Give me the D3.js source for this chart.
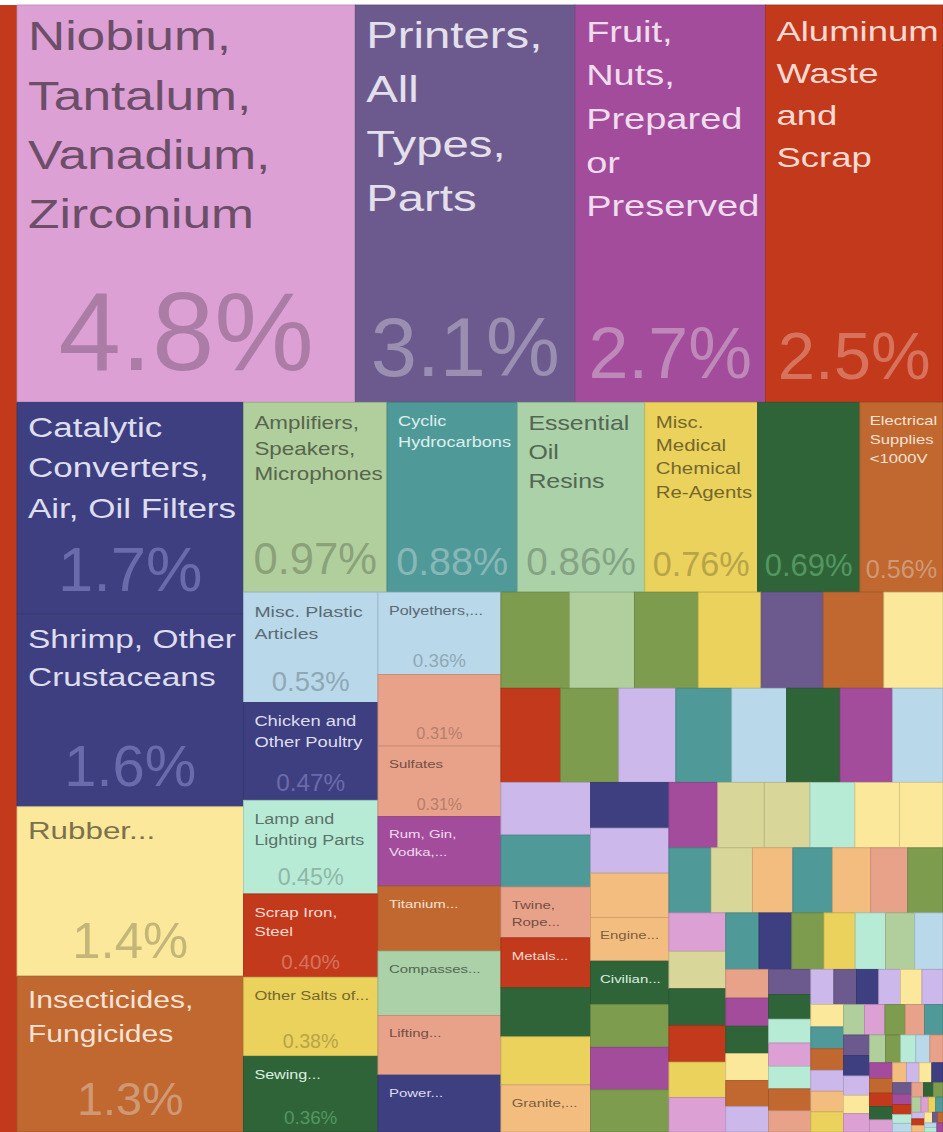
<!DOCTYPE html>
<html>
<head>
<meta charset="utf-8">
<title>Export treemap</title>
<script src="https://cdnjs.cloudflare.com/ajax/libs/d3/7.8.5/d3.min.js"></script>
<style>
html,body{margin:0;padding:0;background:#ffffff;}
svg{display:block;}
</style>
</head>
<body>
<svg id="chart" width="943" height="1132"></svg>
<script>
// ---------------- DATA ----------------
// product communities (colour groups) and their colours
const communities = ["c01","c02","c03","c04","c05","c06","c07","c08","c09","c10",
                     "c11","c12","c13","c14","c15","c16","c17","c18","c19"];
const communityColors = ["#dca0d5","#6c5a8e","#a34c9c","#c2391b","#3e3f81","#b1cf9d","#4f9a98",
                         "#ebd25c","#2f6439","#c0682f","#fbe89b","#b9d8ea","#e9a28a","#b8ebd6",
                         "#7e9c4e","#ccb8ea","#f4bd80","#d9d69a","#aad1a8"];

// products that carry a label (share of exports, %)
const labeledNames = [
  "Niobium, Tantalum, Vanadium, Zirconium", "Printers, All Types, Parts",
  "Fruit, Nuts, Prepared or Preserved", "Aluminum Waste and Scrap",
  "Catalytic Converters, Air, Oil Filters", "Shrimp, Other Crustaceans",
  "Rubber...", "Insecticides, Fungicides",
  "Amplifiers, Speakers, Microphones", "Cyclic Hydrocarbons", "Essential Oil Resins",
  "Misc. Medical Chemical Re-Agents", "Electrical Supplies <1000V",
  "Misc. Plastic Articles", "Chicken and Other Poultry", "Lamp and Lighting Parts",
  "Scrap Iron, Steel", "Other Salts of...", "Sewing...",
  "Polyethers,...", "Sulfates", "Rum, Gin, Vodka,...", "Titanium...", "Compasses...",
  "Lifting...", "Power...", "Twine, Rope...", "Metals...", "Granite,...",
  "Engine...", "Civilian..."
];
const labeledShares = [
  4.80, 3.12, 2.70, 2.52,
  1.71, 1.56, 1.37, 1.26,
  0.974, 0.884, 0.864, 0.764, 0.564,
  0.53, 0.47, 0.45, 0.40, 0.38, 0.364,
  0.362, 0.31, 0.305, 0.285, 0.283, 0.262, 0.25,
  0.163, 0.160, 0.151, 0.122, 0.121
];
const labeledCommunities = [
  "c01","c02","c03","c04",
  "c05","c05","c11","c10",
  "c06","c07","c19","c08","c10",
  "c12","c05","c14","c04","c08","c09",
  "c12","c13","c03","c10","c19","c13","c05",
  "c13","c04","c17","c17","c09"
];

// products too small (or too long-named) to carry a label
const minorShares = [
  0.694, 0.314,
  0.236, 0.222, 0.219, 0.216, 0.213, 0.208, 0.203,
  0.200, 0.196, 0.192, 0.188, 0.184, 0.180, 0.176, 0.170,
  0.169, 0.166, 0.157, 0.154,
  0.128, 0.126, 0.124, 0.120, 0.119, 0.118,
  0.114, 0.109, 0.107, 0.105, 0.104, 0.102,
  0.098, 0.096, 0.094, 0.092, 0.089, 0.086, 0.082,
  0.078, 0.076, 0.075, 0.074, 0.072, 0.070,
  0.067, 0.066, 0.065, 0.063, 0.061, 0.059, 0.057,
  0.044, 0.043, 0.042, 0.041, 0.040, 0.039,
  0.038, 0.037, 0.036, 0.035, 0.034, 0.033, 0.032,
  0.029, 0.0285, 0.028, 0.0275, 0.027, 0.0265,
  0.026, 0.0255, 0.025, 0.0245, 0.024, 0.0235,
  0.023, 0.022, 0.022, 0.021, 0.020, 0.019, 0.019, 0.018, 0.017, 0.017,
  0.016, 0.015, 0.015, 0.014, 0.013, 0.013, 0.012, 0.011, 0.011, 0.010,
  0.010, 0.009, 0.009, 0.008, 0.008, 0.007, 0.007, 0.006, 0.006, 0.006,
  0.005, 0.005, 0.005, 0.004, 0.004, 0.004, 0.003, 0.003, 0.003, 0.003,
  0.002, 0.002, 0.002, 0.002, 0.002
];
const minorCommunities = [
  "c09","c13",
  "c15","c06","c15","c08","c02","c10","c11",
  "c04","c15","c16","c07","c12","c09","c03","c12",
  "c16","c07","c09","c08",
  "c05","c16","c17","c15","c03","c15",
  "c03","c18","c18","c14","c11","c11",
  "c07","c18","c17","c07","c17","c13","c15",
  "c01","c18","c09","c04","c08","c01",
  "c07","c05","c15","c08","c14","c06","c12",
  "c13","c03","c09","c11","c10","c16",
  "c02","c09","c14","c01","c14","c10","c13",
  "c16","c02","c05","c16","c11","c16",
  "c11","c07","c10","c16","c17","c08",
  "c06","c01","c15","c13","c07","c02","c05","c16","c11","c01",
  "c06","c15","c14","c12","c13","c03","c10","c04","c09","c01",
  "c17","c16","c11","c05","c02","c03","c04","c14","c12","c13",
  "c09","c15","c06","c01","c08","c07","c16","c04","c17","c11",
  "c02","c10","c12","c14","c03"
];

// the (much larger) product that lies just outside the left edge of the view
const offEdgeCommunity = "c04";

// ---------------- CHART ----------------
const width = 943, height = 1132;
const frame = {top: 5, left: 17};
const color = d3.scaleOrdinal(communities, communityColors);
const fmt = d3.format(".2r");
const FONT = '"Liberation Sans", Arial, Helvetica, sans-serif';
const SQUASH = 0.78;     // label glyphs are shorter than they are wide
const LINE = 1.15;

const items = labeledNames.map((name, i) => ({name, share: labeledShares[i], community: labeledCommunities[i]}))
  .concat(minorShares.map((share, i) => ({name: "", share, community: minorCommunities[i]})));

const root = d3.hierarchy({children: items})
  .sum(d => d.share || 0)
  .sort((a, b) => b.value - a.value);

d3.treemap()
  .tile(d3.treemapSquarify)
  .size([width - frame.left, height - frame.top])
  (root);

const svg = d3.select("#chart");

svg.append("rect")
  .attr("x", 0).attr("y", frame.top)
  .attr("width", frame.left).attr("height", height - frame.top)
  .attr("fill", color(offEdgeCommunity));

const g = svg.append("g").attr("transform", `translate(${frame.left},${frame.top})`);

const ctx = document.createElement("canvas").getContext("2d");
function tw(text, size) { ctx.font = `${size}px ${FONT}`; return ctx.measureText(text).width; }

function wrapWords(name, size, maxW) {
  const words = name.split(/\s+/);
  const lines = []; let cur = "";
  for (const w of words) {
    if (tw(w, size) > maxW) return null;
    const t = cur ? cur + " " + w : w;
    if (tw(t, size) <= maxW) cur = t; else { lines.push(cur); cur = w; }
  }
  if (cur) lines.push(cur);
  return lines;
}
function fitLabel(name, w, h) {
  const padX = Math.min(11, w * 0.12);
  const maxW = w - padX - 4;
  const maxH = h > 120 ? h * 0.6 : h - 14;
  let size = Math.min(52, Math.max(15, 0.16 * Math.sqrt(w * h)));
  for (; size >= 8; size -= 0.5) {
    const lines = wrapWords(name, size, maxW);
    if (lines && lines.length * size * LINE <= maxH) return {size, lines, padX};
  }
  return null;
}
function textColors(fill) {
  const c = d3.rgb(fill);
  const lum = (0.299 * c.r + 0.587 * c.g + 0.114 * c.b) / 255;
  if (lum > 0.6) return {label: c.darker(2.0).formatHex(), pct: c.darker(0.7).formatHex()};
  const h = d3.hsl(fill);
  return {label: d3.hsl(h.h, h.s, 0.9).formatHex(),
          pct: d3.hsl(h.h, h.s * 0.8, Math.min(0.75, h.l + 0.17)).formatHex()};
}

const cells = g.selectAll("g.cell").data(root.leaves()).join("g").attr("class", "cell");

cells.append("rect")
  .attr("x", d => d.x0).attr("y", d => d.y0)
  .attr("width", d => d.x1 - d.x0).attr("height", d => d.y1 - d.y0)
  .attr("fill", d => color(d.data.community))
  .attr("stroke", d => d3.color(color(d.data.community)).darker(0.5))
  .attr("stroke-width", 0.8);

cells.each(function(d) {
  const sel = d3.select(this);
  const w = d.x1 - d.x0, h = d.y1 - d.y0;
  const cols = textColors(color(d.data.community));
  let labelBottom = d.y0 + 4;
  if (d.data.name) {
    const fit = fitLabel(d.data.name, w, h);
    if (fit) {
      const base = d.y0 + 0.65 * fit.size + 12;
      const t = sel.append("text")
        .attr("transform", `translate(${d.x0 + fit.padX},${base}) scale(1,${SQUASH})`)
        .attr("font-family", FONT).attr("font-size", fit.size)
        .attr("fill", cols.label);
      fit.lines.forEach((line, i) => {
        t.append("tspan").attr("x", 0).attr("dy", i === 0 ? 0 : fit.size * LINE / SQUASH).text(line);
      });
      labelBottom = base + (fit.lines.length - 1) * fit.size * LINE + 4;
    }
  }
  const txt = fmt(d.value) + "%";
  const em = tw(txt, 100) / 100;
  const P = Math.min(0.00185 * w * h, 0.3 * h, 0.86 * w / em, 112);
  const gap = 0.2 * P + Math.min(0.05 * h, 10);
  const extra = P < 20 ? 0.7 * P : 4;
  if (P >= 15 && d.y1 - gap - P * 0.72 > labelBottom + extra) {
    sel.append("text")
      .attr("x", (d.x0 + d.x1) / 2).attr("y", d.y1 - gap)
      .attr("text-anchor", "middle")
      .attr("font-family", FONT).attr("font-size", P)
      .attr("fill", cols.pct)
      .text(txt);
  }
});
</script>
</body>
</html>
